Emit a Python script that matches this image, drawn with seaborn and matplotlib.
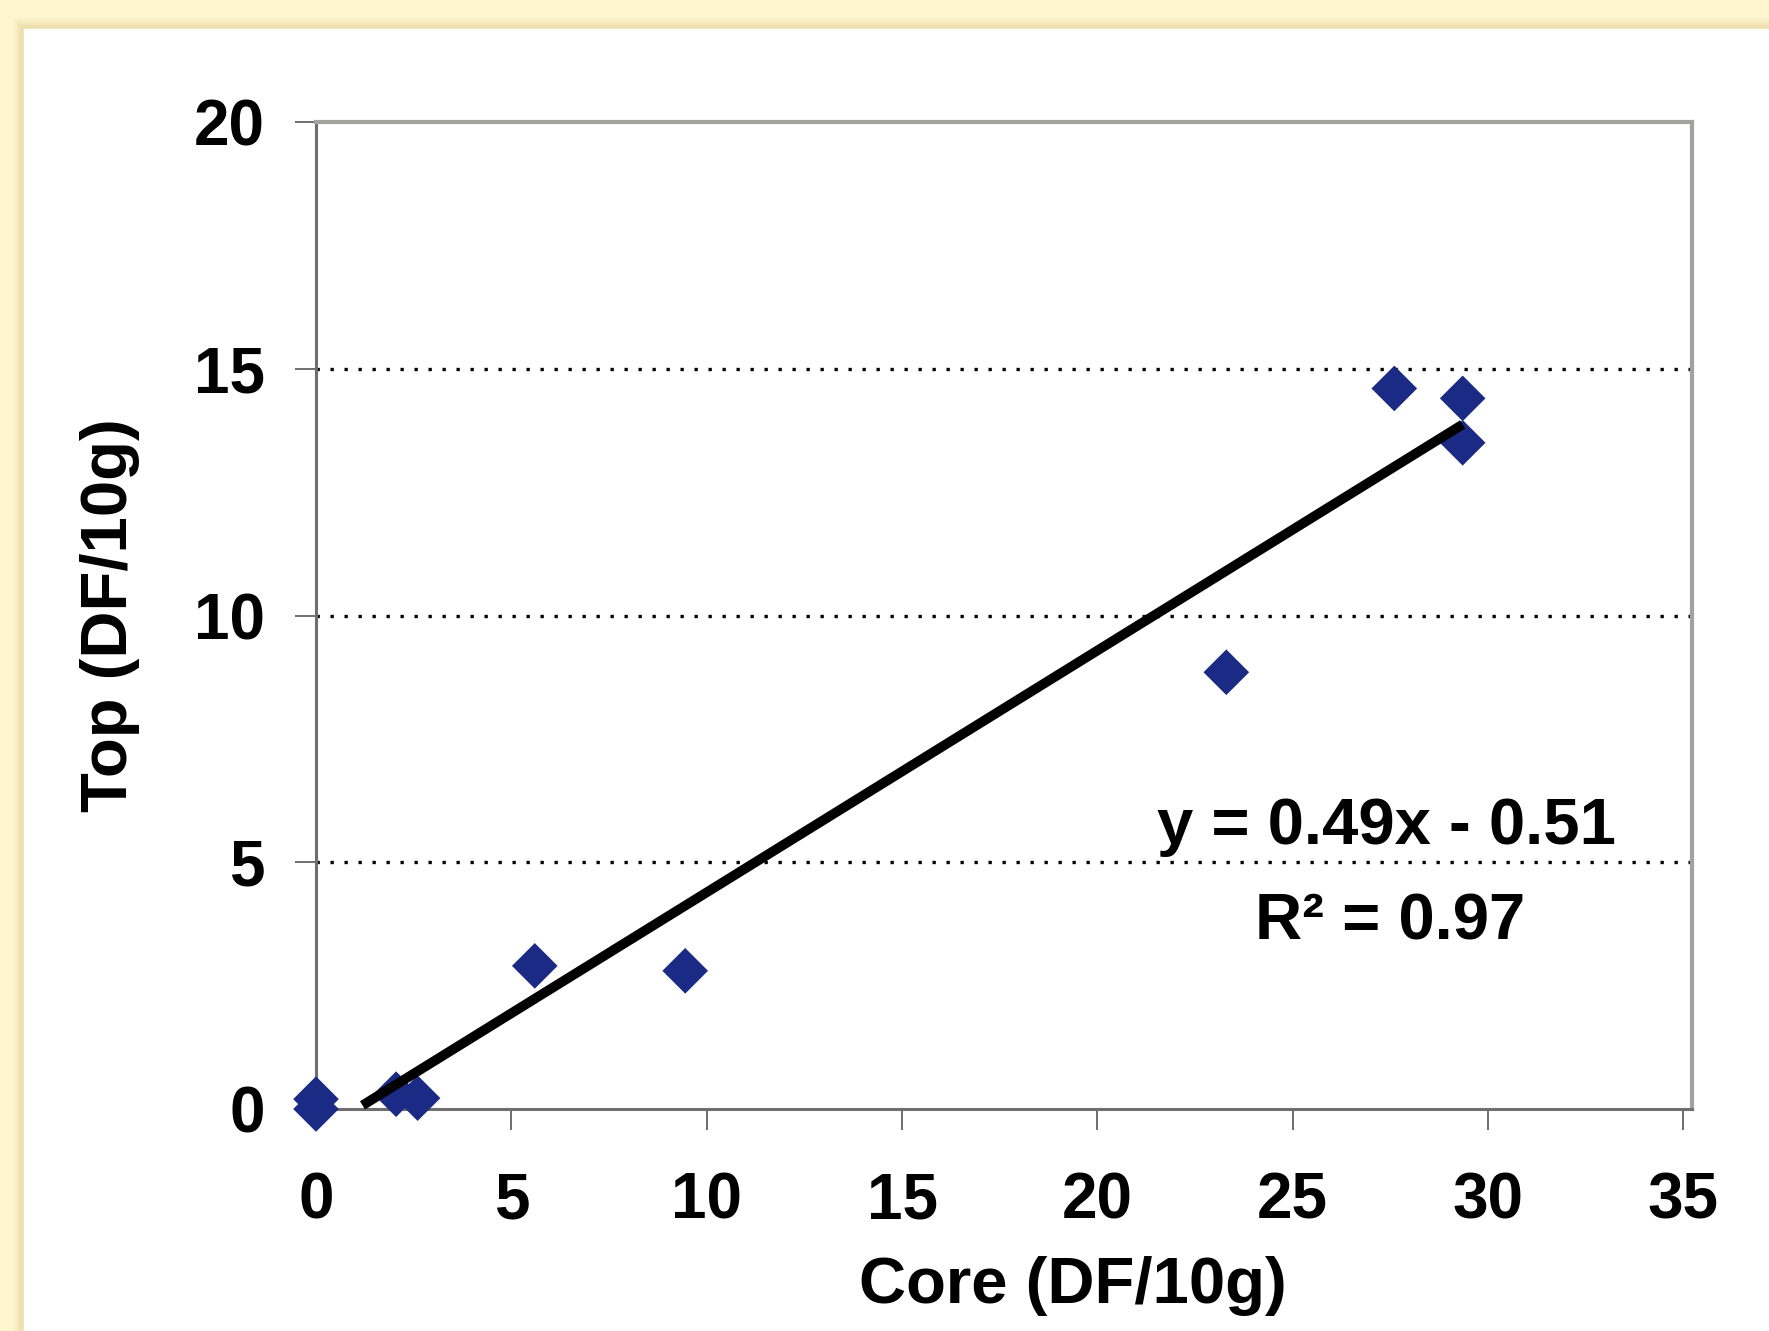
import numpy as np
import pandas as pd
import seaborn as sns
import matplotlib.pyplot as plt
from matplotlib.patches import Rectangle

# values
core = [0, 0, 2.05, 2.6, 5.6, 9.45, 23.3, 27.6, 29.35, 29.35]
top = [0.2, 0, 0.3, 0.22, 2.9, 2.8, 8.85, 14.6, 14.4, 13.5]
slope = 0.49
intercept = -0.51
r2 = 0.97
x_ticks = [0, 5, 10, 15, 20, 25, 30, 35]
y_ticks = [0, 5, 10, 15, 20]
grid_levels = [5, 10, 15]

df = pd.DataFrame({"Core": core, "Top": top})

sns.set_style("white")
plt.rcParams['font.family'] = ['Liberation Sans', 'DejaVu Sans']
plt.rcParams['font.weight'] = 'bold'
plt.rcParams['text.color'] = 'black'
plt.rcParams['axes.labelcolor'] = 'black'
plt.rcParams['xtick.labelcolor'] = 'black'
plt.rcParams['ytick.labelcolor'] = 'black'

fig = plt.figure(figsize=(17.69, 13.31), dpi=100)
fig.patch.set_facecolor('#FEF5CE')

# slide panel with a soft shadow
W, H = 1769, 1331
for off, col in [(10, '#F9EFC7'), (7, '#F4E7BA'), (4, '#EEDFAF')]:
    fig.patches.append(Rectangle(((24 - off) / W, 0), 1, (H - 29 + off) / H,
                                 transform=fig.transFigure, color=col, zorder=-3))
fig.patches.append(Rectangle((24 / W, 0), 1, (H - 29) / H,
                             transform=fig.transFigure, color='white', zorder=-2))

ax = fig.add_axes([316 / W, 222 / H, (1692 - 316) / W, (1109 - 122) / H])
ax.set_facecolor('white')

# dotted gridlines
for g in grid_levels:
    ax.axhline(g, color='black', lw=2.4, ls=(0, (1, 3.2)), zorder=1)

sns.scatterplot(data=df, x="Core", y="Top", marker='D', s=540,
                color='#1B2A84', edgecolor='none', ax=ax, zorder=3,
                clip_on=False)

# trend line from the equation, starting where it crosses zero
xs = np.array([-intercept / slope + 0.15, max(core)])
sns.lineplot(x=xs, y=slope * xs + intercept, color='black', lw=7,
             ax=ax, zorder=4, solid_capstyle='butt')

ax.set_xlim(0, 35.22)
ax.set_ylim(0, 20)
ax.set_xticks(x_ticks)
ax.set_yticks(y_ticks)
ax.tick_params(axis='both', direction='out', length=15, width=1.2,
               color='#555555', labelsize=46, pad=22)
ax.tick_params(axis='x', pad=30)
ax.tick_params(axis='y', left=True)
ax.tick_params(axis='x', bottom=True)
for lab in ax.get_xticklabels() + ax.get_yticklabels():
    lab.set_fontweight('bold')

for side in ['top', 'right']:
    ax.spines[side].set_color('#A3A39E')
    ax.spines[side].set_linewidth(3)
for side in ['left', 'bottom']:
    ax.spines[side].set_color('#6E6E6E')
    ax.spines[side].set_linewidth(2.2)

ax.set_xlabel("Core (DF/10g)", fontsize=47, fontweight='bold', va='center')
ax.set_ylabel("Top (DF/10g)", fontsize=47, fontweight='bold', va='center')
ax.xaxis.set_label_coords(0.55, -0.179)
ax.yaxis.set_label_coords(-0.15, 0.5)

ax.text(27.4, 5.71, f"y = {slope:.2f}x - {abs(intercept):.2f}", fontsize=47,
        fontweight='bold', ha='center', va='center', zorder=5)
ax.text(27.5, 3.77, f"R² = {r2:.2f}", fontsize=47,
        fontweight='bold', ha='center', va='center', zorder=5)

fig.savefig("out.png", dpi=100)
